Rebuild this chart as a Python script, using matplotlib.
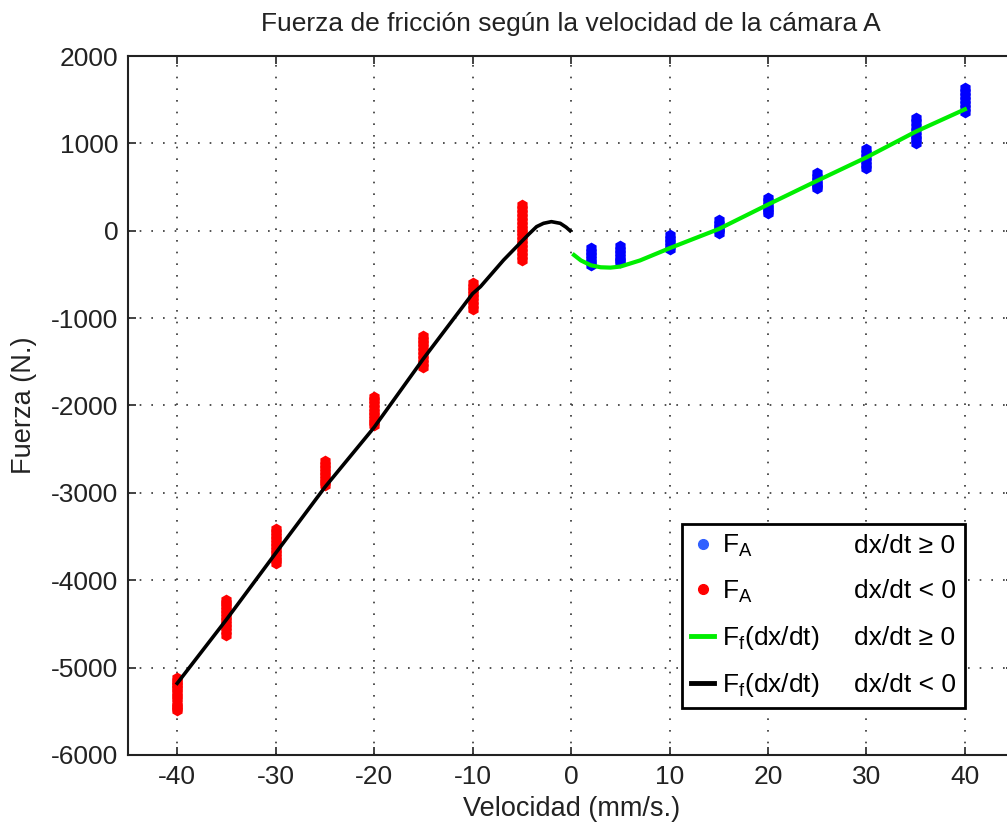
import matplotlib
matplotlib.use("Agg")
import matplotlib.pyplot as plt
from matplotlib.lines import Line2D

# Measured friction force clusters, dx/dt < 0 (mm/s -> N)
neg_speeds = [-40, -35, -30, -25, -20, -15, -10, -5]
neg_forces = [
    [-5120, -5150, -5185, -5215, -5250, -5285, -5320, -5350, -5410, -5440, -5465, -5485],
    [-4225, -4260, -4300, -4340, -4380, -4420, -4460, -4500, -4540, -4580, -4625],
    [-3410, -3450, -3490, -3530, -3570, -3610, -3650, -3690, -3730, -3770, -3805],
    [-2640, -2680, -2720, -2760, -2800, -2840, -2875, -2910],
    [-1900, -1940, -1985, -2030, -2070, -2110, -2150, -2190, -2225],
    [-1210, -1250, -1290, -1335, -1380, -1420, -1465, -1510, -1555],
    [-600, -640, -680, -720, -760, -800, -845, -895],
    [295, 250, 205, 160, 115, 70, 25, -20, -65, -110, -155, -200, -245, -290, -335],
]

# Measured friction force clusters, dx/dt >= 0
pos_speeds = [2, 5, 10, 15, 20, 25, 30, 35, 40]
pos_forces = [
    [-200, -240, -280, -320, -355, -390],
    [-180, -220, -260, -300, -330, -355],
    [-50, -90, -130, -170, -210],
    [120, 80, 40, 5, -30],
    [380, 340, 300, 260, 225, 200],
    [660, 620, 580, 540, 510, 485],
    [935, 890, 845, 800, 755, 715],
    [1285, 1240, 1190, 1140, 1090, 1045, 1000],
    [1635, 1590, 1545, 1500, 1450, 1400, 1355],
]

# Fitted friction model F_f(dx/dt), dx/dt >= 0
fit_pos_v = [0.3, 1, 2, 3, 4, 5, 7, 10, 12.5, 15, 20, 25, 30, 35, 40]
fit_pos_f = [-278, -340, -395, -418, -422, -410, -340, -200, -90, 20, 300, 573, 840, 1134, 1390]

# Fitted friction model F_f(dx/dt), dx/dt < 0
fit_neg_v = [-40, -35, -30, -25, -20, -15, -10, -9.2, -6.85, -5.2, -4.3, -3.5, -2.8, -2, -1.1, -0.5, -0.1]
fit_neg_f = [-5180, -4450, -3690, -2935, -2250, -1465, -720, -640, -335, -144, -40, 47, 85, 104, 85, 40, 0]

x_ticks = [-40, -30, -20, -10, 0, 10, 20, 30, 40]
y_ticks = [-6000, -5000, -4000, -3000, -2000, -1000, 0, 1000, 2000]

legend_names = [r"F$_\mathregular{A}$", r"F$_\mathregular{A}$",
                r"F$_\mathregular{f}$(dx/dt)", r"F$_\mathregular{f}$(dx/dt)"]
legend_conditions = ["dx/dt ≥ 0", "dx/dt < 0", "dx/dt ≥ 0", "dx/dt < 0"]

FONT = ["Liberation Sans Narrow", "Liberation Sans", "DejaVu Sans"]
plt.rcParams["font.family"] = FONT
plt.rcParams["mathtext.fontset"] = "custom"
plt.rcParams["mathtext.rm"] = "Liberation Sans Narrow"
plt.rcParams["mathtext.it"] = "Liberation Sans Narrow"
plt.rcParams["axes.unicode_minus"] = False
FS = 19
TXT = "#222222"

fig = plt.figure(figsize=(10.07, 8.31), dpi=100)
fig.patch.set_facecolor("white")
ax = fig.add_axes([0.1271, 0.0915, 0.880, 0.8411])

for v, forces in zip(pos_speeds, pos_forces):
    ax.plot([v] * len(forces), forces, linestyle="none", marker="h",
            markersize=8.5, color="blue", markeredgewidth=0, zorder=3)
for v, forces in zip(neg_speeds, neg_forces):
    ax.plot([v] * len(forces), forces, linestyle="none", marker="h",
            markersize=8.5, color="red", markeredgewidth=0, zorder=3)

ax.plot(fit_pos_v, fit_pos_f, color="#00ee00", linewidth=3, zorder=4)
ax.plot(fit_neg_v, fit_neg_f, color="black", linewidth=2.6, zorder=4)

ax.set_xlim(-45, 45)
ax.set_ylim(-6000, 2000)
ax.set_xticks(x_ticks)
ax.set_yticks(y_ticks)
ax.tick_params(direction="in", length=6, width=1.2, top=True, right=True,
               labelsize=FS, colors=TXT, pad=7)
ax.grid(True, color="#333333", linestyle=(0, (1, 6)), linewidth=1.2)
for sp in ax.spines.values():
    sp.set_linewidth(1.5)
    sp.set_color(TXT)

ax.set_title("Fuerza de fricción según la velocidad de la cámara A",
             fontsize=FS, color=TXT, pad=18)
ax.set_xlabel("Velocidad (mm/s.)", fontsize=FS + 0.5, color=TXT, labelpad=5)
ax.set_ylabel("Fuerza (N.)", fontsize=FS + 0.5, color=TXT, labelpad=10)

# Two-column legend: the second column is laid out by the legend (for width)
# but drawn on the baseline of the first column so that rows line up.
blank = Line2D([], [], linestyle="none")
handles = [
    Line2D([], [], linestyle="none", marker="o", markersize=7, color="#3060ff"),
    Line2D([], [], linestyle="none", marker="o", markersize=7, color="red"),
    Line2D([], [], color="#00ee00", linewidth=3.5),
    Line2D([], [], color="black", linewidth=3.5),
    blank, blank, blank, blank,
]
leg = ax.legend(handles, legend_names + legend_conditions, ncol=2,
                loc="lower right", bbox_to_anchor=(0.945, 0.067),
                borderaxespad=0, fontsize=FS, frameon=True, fancybox=False,
                framealpha=1, edgecolor="black", handlelength=0.9,
                handletextpad=0.3, columnspacing=0.1, labelspacing=0.72,
                borderpad=0.35)
leg.get_frame().set_linewidth(2.0)

fig.canvas.draw()
texts = leg.get_texts()
for name_t, cond_t in zip(texts[:4], texts[4:]):
    cond_t.set_alpha(0)
    name_xy = name_t.get_transform().transform(name_t.get_unitless_position())
    cond_xy = cond_t.get_transform().transform(cond_t.get_unitless_position())
    fig.text(cond_xy[0] / fig.bbox.width, name_xy[1] / fig.bbox.height,
             cond_t.get_text(), fontsize=FS, color="black",
             ha="left", va="baseline", zorder=10)

fig.savefig("out.png", dpi=100, facecolor="white")
